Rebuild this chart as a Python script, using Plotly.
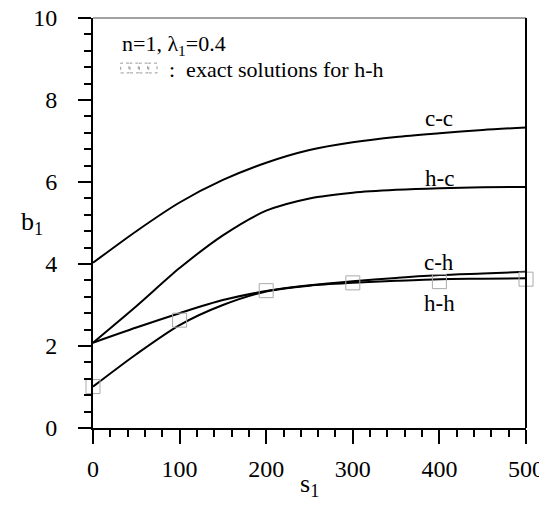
import plotly.graph_objects as go

s = [0, 50, 100, 150, 200, 250, 300, 350, 400, 450, 500]
cc = [4.03, 4.8, 5.5, 6.05, 6.47, 6.78, 6.97, 7.1, 7.19, 7.27, 7.33]
hc = [2.08, 2.97, 3.9, 4.7, 5.3, 5.6, 5.74, 5.81, 5.85, 5.87, 5.88]
ch = [2.08, 2.45, 2.8, 3.12, 3.34, 3.48, 3.58, 3.66, 3.73, 3.77, 3.81]
hh = [1.01, 1.8, 2.51, 3.0, 3.33, 3.47, 3.54, 3.59, 3.63, 3.64, 3.65]

s_exact = [0, 100, 200, 300, 400, 500]
hh_exact = [1.01, 2.63, 3.35, 3.54, 3.57, 3.63]

curve_names = ["c-c", "h-c", "c-h", "h-h"]
label_pos = [(400, 7.56), (400, 6.09), (400, 4.04), (400, 3.04)]

FONT = "Liberation Serif"

fig = go.Figure()
for name, ys in zip(curve_names, [cc, hc, ch, hh]):
    fig.add_trace(go.Scatter(x=s, y=ys, mode="lines", name=name,
                             line=dict(color="black", width=2, shape="spline", smoothing=0.8),
                             showlegend=False))
fig.add_trace(go.Scatter(x=s_exact, y=hh_exact, mode="markers", name="exact h-h",
                         marker=dict(symbol="square-open", size=14, color="#aaaaaa",
                                     line=dict(width=1, color="#aaaaaa")),
                         showlegend=False, cliponaxis=False))

for name, (lx, ly) in zip(curve_names, label_pos):
    fig.add_annotation(x=lx, y=ly, text=name, showarrow=False,
                       font=dict(family=FONT, size=23, color="black"))

fig.add_annotation(x=31, y=9.33, xanchor="left",
                   text="n=1, λ<sub>1</sub>=0.4", showarrow=False,
                   font=dict(family=FONT, size=22, color="black"))
fig.add_annotation(x=86, y=8.75, xanchor="left",
                   text=":  exact solutions for h-h", showarrow=False,
                   font=dict(family=FONT, size=22, color="black"))
for i in range(4):
    x0 = 32 + i * 10.8
    fig.add_shape(type="rect", xref="x", yref="y",
                  x0=x0, x1=x0 + 9.5, y0=8.66, y1=8.9,
                  line=dict(color="#999999", width=1, dash="dot"))

# frame: thin top edge, heavier right edge
fig.add_shape(type="line", xref="paper", yref="paper", x0=0, x1=1, y0=1, y1=1,
              line=dict(color="#444444", width=1))
fig.add_shape(type="line", xref="paper", yref="paper", x0=1, x1=1, y0=0, y1=1,
              line=dict(color="black", width=2))

fig.add_annotation(xref="paper", yref="paper", x=-0.172, y=0.5,
                   text="b<sub>1</sub>", showarrow=False,
                   font=dict(family=FONT, size=26, color="black"))
fig.add_annotation(xref="paper", yref="paper", x=0.5, y=-0.183,
                   text="s<sub>1</sub>", showarrow=False,
                   font=dict(family=FONT, size=26, color="black"))

fig.update_layout(
    width=539, height=512,
    margin=dict(l=85, r=21, t=10, b=92),
    paper_bgcolor="white", plot_bgcolor="white",
    font=dict(family=FONT, size=24, color="black"),
    xaxis=dict(range=[0, 500], tickvals=[0, 100, 200, 300, 400, 500],
               ticks="outside", ticklen=14, tickwidth=2, tickcolor="black",
               minor=dict(dtick=20, ticks="outside", ticklen=7, tickwidth=2, tickcolor="black"),
               showline=True, linecolor="black", linewidth=2, mirror=False,
               showgrid=False, zeroline=False, ticklabelstandoff=4, automargin=False,
               ticklabeloverflow="allow"),
    yaxis=dict(range=[0, 10], tickvals=[0, 2, 4, 6, 8, 10],
               ticks="outside", ticklen=13, tickwidth=2, tickcolor="black",
               minor=dict(dtick=0.4, ticks="outside", ticklen=7, tickwidth=2, tickcolor="black"),
               showline=True, linecolor="black", linewidth=2, mirror=False,
               showgrid=False, zeroline=False, ticklabelstandoff=16, automargin=False,
               ticklabeloverflow="allow"),
)

fig.write_html("out.html")
